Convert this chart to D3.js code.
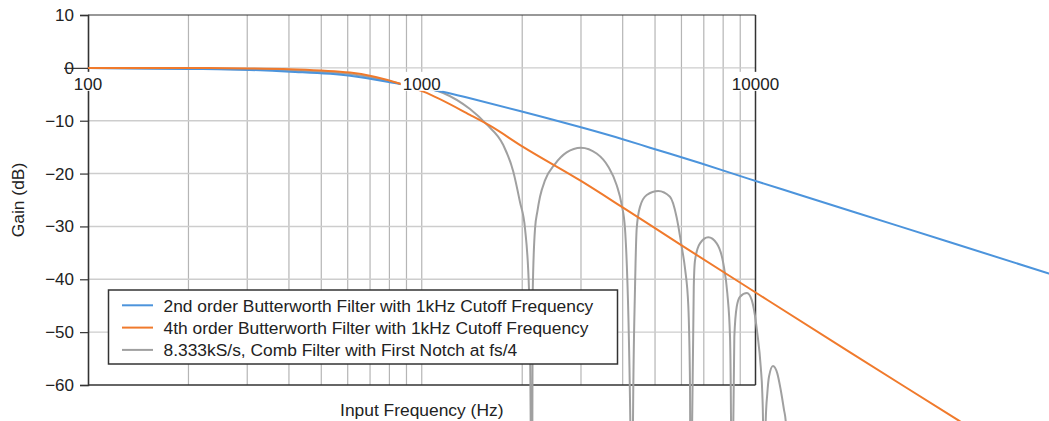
<!DOCTYPE html>
<html>
<head>
<meta charset="utf-8">
<script src="https://cdn.jsdelivr.net/npm/d3@7/dist/d3.min.js"></script>
<style>
  html, body { margin: 0; padding: 0; background: #fff; }
  svg { display: block; font-family: "Liberation Sans", Arial, Helvetica, sans-serif; }
</style>
</head>
<body>
<svg id="chart" width="1049" height="421"></svg>
<script>
// ---------- data ----------
const freqTickLabels = [100, 1000, 10000];
const gainTicks = [10, 0, -10, -20, -30, -40, -50, -60];
const seriesNames = [
  "2nd order Butterworth Filter with 1kHz Cutoff Frequency",
  "4th order Butterworth Filter with 1kHz Cutoff Frequency",
  "8.333kS/s, Comb Filter with First Notch at fs/4"
];
const seriesColors = ["#4c94dc", "#f07a2c", "#a0a0a0"];

const butter2Freq = [100, 200, 305, 403, 610, 861, 1174, 1395, 1968, 2999, 4000, 4831, 6818, 9561, 13600, 26900, 75700, 100000];
const butter2Gain = [-0.04, -0.2, -0.4, -0.72, -1.48, -3.05, -4.6, -5.76, -8.16, -11.25, -13.5, -15.1, -18.0, -21.0, -24.05, -29.95, -38.9, -41.3];

const butter4Freq = [100, 200, 305, 403, 610, 861, 1011, 1395, 1601, 2000, 2999, 4000, 5943, 9561, 19050, 40800, 60000];
const butter4Gain = [-0.02, -0.03, -0.1, -0.25, -0.9, -3.0, -4.5, -8.9, -10.95, -14.85, -21.4, -26.4, -33.4, -41.7, -53.7, -66.8, -73.5];

const combFreq = [100, 200, 305, 403, 610, 861, 1160, 1395, 1565, 1755, 1880, 1968, 2039, 2096, 2120, 2133,
  2145, 2151, 2185, 2220, 2261, 2340, 2507, 2717, 2999, 3342, 3622, 3838, 3973, 4064, 4216, 4256,
  4295, 4354, 4406, 4507, 4721, 5114, 5543, 5805, 6009, 6150, 6290, 6364, 6399,
  6460, 6532, 6589, 6818, 7221, 7651, 8009, 8233, 8388, 8446, 8505,
  8582, 8641, 8785, 8988, 9430, 9741, 9897, 10125, 10366, 10481, 10532, 10627,
  10730, 10849, 10977, 11282, 11623, 11899, 12173, 12316, 12513];
const combGain = [-0.05, -0.15, -0.3, -0.5, -1.15, -3.0, -4.75, -7.8, -10.7, -14.6, -19.6, -25.3, -30.4, -42, -66.8, -110,
  -66.8, -42, -30.4, -27.2, -24.4, -21.3, -18.2, -16.0, -15.1, -16.2, -18.7, -22.2, -25.9, -30.4, -66.8, -110,
  -66.8, -42, -30.4, -26.3, -24.05, -23.3, -24.4, -28.3, -33.8, -38, -45, -60, -110,
  -66.8, -41.4, -36.4, -33.2, -32.06, -33.2, -37, -42.65, -50.9, -66.8, -110,
  -66.8, -50.9, -45.2, -43.3, -42.6, -43.9, -45.8, -50.2, -56.5, -61.6, -66.8, -110,
  -66.8, -61.6, -58.4, -56.4, -57.8, -60.9, -64.7, -66.8, -110];

const xTitle = "Input Frequency (Hz)";
const yTitle = "Gain (dB)";

// ---------- drawing ----------
const svg = d3.select("#chart");
const x = d3.scaleLog().domain([100, 10000]).range([88, 755.5]);
const y = d3.scaleLinear().domain([-60, 10]).range([385, 15]);
const [x0, x1] = x.range();
const [yb, yt] = y.range();
const FONT = "'Liberation Sans', Arial, sans-serif";

// vertical grid
const vTicks = x.ticks().filter(v => v > 100 && v < 10000);
svg.append("g").selectAll("line").data(vTicks).join("line")
  .attr("x1", d => x(d)).attr("x2", d => x(d))
  .attr("y1", yt).attr("y2", yb)
  .attr("stroke", "#b5b5b5").attr("stroke-width", 1.2);

// horizontal grid
svg.append("g").selectAll("line").data(gainTicks.filter(v => v < 10 && v > -60)).join("line")
  .attr("x1", x0).attr("x2", x1)
  .attr("y1", d => y(d)).attr("y2", d => y(d))
  .attr("stroke", "#cdcdcd").attr("stroke-width", 1.4);

// frame
svg.append("line").attr("x1", x0).attr("x2", x1).attr("y1", yt).attr("y2", yt).attr("stroke", "#333").attr("stroke-width", 1.2);
svg.append("line").attr("x1", x1).attr("x2", x1).attr("y1", yt).attr("y2", yb).attr("stroke", "#333").attr("stroke-width", 1.5);
svg.append("line").attr("x1", x0).attr("x2", x1).attr("y1", yb).attr("y2", yb).attr("stroke", "#333").attr("stroke-width", 1.5);

// y axis
const yAxis = d3.axisLeft(y).tickValues(gainTicks).tickSize(8).tickPadding(6)
  .tickFormat(d => d < 0 ? "\u2212" + Math.abs(d) : String(d));
const gy = svg.append("g").attr("transform", `translate(${x0},0)`).call(yAxis);
gy.select(".domain").attr("stroke", "#333").attr("stroke-width", 1.6);
gy.selectAll(".tick line").attr("stroke", "#333").attr("stroke-width", 1.2);
gy.selectAll(".tick text").attr("font-size", 17).attr("fill", "#222").attr("font-family", FONT);
gy.selectAll(".tick").filter(d => d === 0).select("line").attr("x2", -24);

// series lines
const series = [
  { f: butter2Freq, g: butter2Gain },
  { f: butter4Freq, g: butter4Gain },
  { f: combFreq, g: combGain }
];
const line = d3.line().x(d => x(d[0])).y(d => y(d[1])).curve(d3.curveMonotoneX);
const drawOrder = [2, 0, 1];
drawOrder.forEach(i => {
  const s = series[i];
  svg.append("path")
    .datum(s.f.map((v, k) => [v, s.g[k]]))
    .attr("fill", "none")
    .attr("stroke", seriesColors[i])
    .attr("stroke-width", 2)
    .attr("stroke-linejoin", "round")
    .attr("d", line);
});

// x tick labels on the 0 dB line, with white backgrounds
const xl = svg.append("g");
freqTickLabels.forEach(v => {
  const g = xl.append("g");
  const t = g.append("text")
    .attr("x", x(v)).attr("y", 90)
    .attr("text-anchor", "middle")
    .attr("font-size", 17).attr("fill", "#222")
    .text(String(v));
  const bb = t.node().getBBox();
  g.insert("rect", "text")
    .attr("x", bb.x - 2).attr("y", y(0) + 4)
    .attr("width", bb.width + 4).attr("height", 19)
    .attr("fill", "#fff");
});

// legend
const lg = svg.append("g");
lg.append("rect").attr("x", 108.5).attr("y", 290).attr("width", 509).attr("height", 74)
  .attr("fill", "#fff").attr("stroke", "#333").attr("stroke-width", 1.5);
seriesNames.forEach((name, i) => {
  const cy = 305.3 + i * 22.3;
  lg.append("line").attr("x1", 122).attr("x2", 153).attr("y1", cy).attr("y2", cy)
    .attr("stroke", seriesColors[i]).attr("stroke-width", 2);
  lg.append("text").attr("x", 163.5).attr("y", cy + 6.2)
    .attr("font-size", 17.4).attr("fill", "#222").text(name);
});

// axis titles
svg.append("text").attr("x", (x0 + x1) / 2).attr("y", 416)
  .attr("text-anchor", "middle").attr("font-size", 17.4).attr("fill", "#222").text(xTitle);
svg.append("text").attr("transform", `translate(24,${(yt + yb) / 2}) rotate(-90)`)
  .attr("text-anchor", "middle").attr("font-size", 17.4).attr("fill", "#222").text(yTitle);
</script>
</body>
</html>
